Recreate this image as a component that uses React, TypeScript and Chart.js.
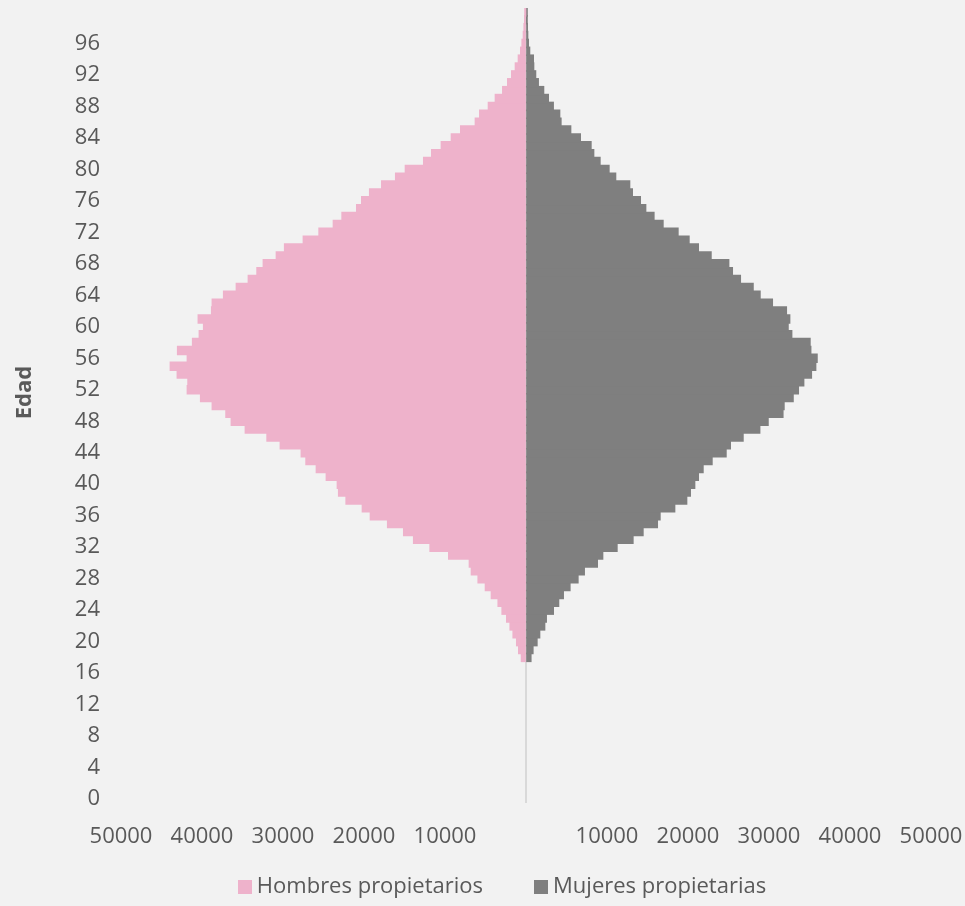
import React, { useEffect, useRef } from "react";
import { Chart, registerables } from "chart.js";

Chart.register(...registerables);

const ages = [
  0, 1, 2, 3, 4, 5, 6, 7, 8, 9, 10, 11, 12, 13, 14, 15, 16, 17, 18, 19,
  20, 21, 22, 23, 24, 25, 26, 27, 28, 29, 30, 31, 32, 33, 34, 35, 36, 37, 38, 39,
  40, 41, 42, 43, 44, 45, 46, 47, 48, 49, 50, 51, 52, 53, 54, 55, 56, 57, 58, 59,
  60, 61, 62, 63, 64, 65, 66, 67, 68, 69, 70, 71, 72, 73, 74, 75, 76, 77, 78, 79,
  80, 81, 82, 83, 84, 85, 86, 87, 88, 89, 90, 91, 92, 93, 94, 95, 96, 97, 98, 99, 100,
];

// Hombres propietarios (ages 0..100)
const hombres = [
  0, 0, 0, 0, 0, 0, 0, 0, 0, 0, 0, 0, 0, 0, 0, 0, 0, 0, 550, 890,
  1140, 1580, 1950, 2370, 2940, 3430, 4260, 5000, 5900, 6730,
  6980, 9530, 11830, 13860, 15090, 17070, 19200, 20190, 22200, 23120,
  23280, 24640, 25870, 27150, 27730, 30320, 31960, 34640, 36370, 37030,
  38720, 40160, 41800, 41720, 43040, 43900, 41800, 43000, 41150, 40320,
  39790, 40450, 38800, 38720, 37320, 35750, 34270, 33200, 32420, 30810,
  29790, 27480, 25540, 23770, 22700, 20890, 20270, 19290, 17800, 16080,
  14880, 12620, 11630, 10440, 9200, 8050, 6240, 5700, 4630, 3770,
  2860, 2250, 1750, 1300, 930, 640, 470, 310, 220, 150, 60,
];

// Mujeres propietarias (ages 0..100)
const mujeres = [
  0, 0, 0, 0, 0, 0, 0, 0, 0, 0, 0, 0, 0, 0, 0, 0, 0, 0, 590, 840,
  1340, 1670, 2290, 2490, 3360, 4010, 4590, 5410, 6400, 7180,
  8790, 9450, 11220, 13190, 14430, 16200, 16530, 18340, 19820, 20270,
  20810, 21260, 21840, 22950, 24680, 25210, 26780, 28840, 29870, 31700,
  31840, 32960, 33610, 34270, 35220, 35750, 35920, 35140, 35050, 32790,
  32340, 32540, 32130, 30400, 28880, 28020, 26450, 25460, 25010, 22830,
  21260, 20110, 18750, 16900, 15780, 14760, 14100, 13110, 12780, 11050,
  10230, 9120, 8340, 8010, 6690, 5500, 4300, 4140, 3350, 2740,
  2160, 1500, 1170, 930, 890, 430, 270, 190, 150, 100, 60,
];

const seriesNames = ["Hombres propietarios", "Mujeres propietarias"];
const seriesColors = ["#EEB2CB", "#7F7F7F"];
const axisTitle = "Edad";
const xMin = -50000;
const xMax = 50000;
const xStep = 10000;

const TEXT = "#595959";
const BG = "#F2F2F2";
const FONT = '"Open Sans", "Noto Sans", sans-serif';

export default function App() {
  const ref = useRef<HTMLCanvasElement | null>(null);

  useEffect(() => {
    document.body.style.margin = "0";
    document.body.style.background = BG;
    if (!ref.current) return;

    const bgPlugin = {
      id: "bgFill",
      beforeDraw(chart: any) {
        const { ctx, width, height } = chart;
        ctx.save();
        ctx.fillStyle = BG;
        ctx.fillRect(0, 0, width, height);
        ctx.restore();
      },
    };

    const extrasPlugin = {
      id: "legendAndTitle",
      afterDraw(chart: any) {
        const { ctx, chartArea } = chart;
        // axis title
        ctx.save();
        ctx.font = `bold 22px ${FONT}`;
        ctx.fillStyle = TEXT;
        ctx.textAlign = "center";
        ctx.textBaseline = "middle";
        ctx.translate(25, (chartArea.top + chartArea.bottom) / 2 - 13);
        ctx.rotate(-Math.PI / 2);
        ctx.fillText(axisTitle, 0, 0);
        ctx.restore();

        // legend
        ctx.save();
        ctx.font = `22px ${FONT}`;
        ctx.textBaseline = "middle";
        ctx.textAlign = "left";
        const box = 14;
        const gap = 5;
        const itemGap = 51;
        const items = chart.data.datasets.map((d: any) => ({
          text: d.label as string,
          color: d.backgroundColor as string,
          w: ctx.measureText(d.label).width,
        }));
        const total = items.reduce(
          (s: number, it: any, i: number) => s + box + gap + it.w + (i ? itemGap : 0),
          0
        );
        const cx = (chartArea.left + chartArea.right) / 2 - 24;
        let x = cx - total / 2;
        const y = chartArea.bottom + 84;
        items.forEach((it: any) => {
          ctx.fillStyle = it.color;
          ctx.fillRect(Math.round(x), Math.round(y - 7), box, box);
          ctx.fillStyle = TEXT;
          ctx.fillText(it.text, x + box + gap, y);
          x += box + gap + it.w + itemGap;
        });
        ctx.restore();
      },
    };

    const chart = new Chart(ref.current, {
      type: "bar",
      data: {
        labels: ages.map(String),
        datasets: [
          {
            label: seriesNames[0],
            data: hombres.map((v) => (v === 0 ? null : -v)),
            backgroundColor: seriesColors[0],
            borderWidth: 0,
            inflateAmount: 0.8,
            barPercentage: 1,
            categoryPercentage: 1,
          },
          {
            label: seriesNames[1],
            data: mujeres.map((v) => (v === 0 ? null : v)),
            backgroundColor: seriesColors[1],
            borderWidth: 0,
            inflateAmount: 0.8,
            barPercentage: 1,
            categoryPercentage: 1,
          },
        ],
      },
      options: {
        indexAxis: "y",
        responsive: false,
        animation: false,
        devicePixelRatio: 1,
        layout: { padding: { left: 0, right: 34, top: 8, bottom: 53 } },
        plugins: {
          legend: { display: false },
          tooltip: { enabled: false },
          title: { display: false },
        },
        scales: {
          x: {
            type: "linear",
            stacked: true,
            min: xMin,
            max: xMax,
            z: 1,
            border: { display: false },
            grid: {
              display: true,
              drawTicks: true,
              tickLength: 21,
              tickColor: "rgba(0,0,0,0)",
              lineWidth: 2,
              color: (c: any) =>
                c.tick && c.tick.value === 0 ? "#D9D9D9" : "rgba(0,0,0,0)",
            },
            ticks: {
              stepSize: xStep,
              autoSkip: false,
              maxRotation: 0,
              padding: 0,
              color: TEXT,
              font: { family: FONT, size: 22, lineHeight: 1.2 },
              callback: (v: any) => (Number(v) === 0 ? "" : String(Math.abs(Number(v)))),
            },
            afterFit: (scale: any) => {
              scale.height = 50;
            },
          },
          y: {
            type: "category",
            stacked: true,
            reverse: true,
            border: { display: false },
            grid: {
              display: true,
              drawTicks: true,
              tickLength: 21,
              tickColor: "rgba(0,0,0,0)",
              color: "rgba(0,0,0,0)",
            },
            ticks: {
              autoSkip: false,
              padding: 0,
              color: TEXT,
              font: { family: FONT, size: 22, lineHeight: 0.7 },
              callback: (v: any) => {
                const a = ages[Number(v)];
                return a % 4 === 0 && a <= 96 ? String(a) : "";
              },
            },
            title: { display: false },
            afterFit: (scale: any) => {
              scale.width = 121;
            },
          },
        },
      },
      plugins: [bgPlugin, extrasPlugin],
    } as any);

    return () => chart.destroy();
  }, []);

  return (
    <div style={{ width: 965, height: 906, background: BG }}>
      <canvas ref={ref} width={965} height={906} style={{ display: "block" }} />
    </div>
  );
}
